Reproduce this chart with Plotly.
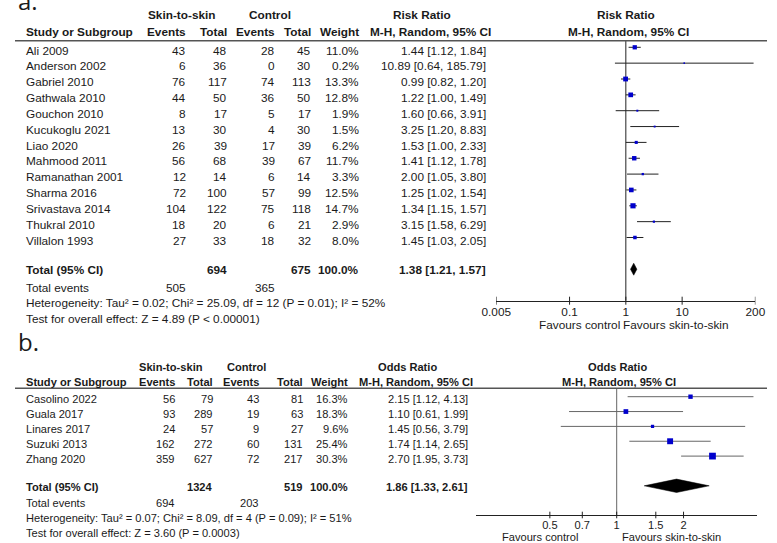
import math
import plotly.graph_objects as go

W, H = 777, 543
FONT = "Liberation Sans, Arial, sans-serif"
TXT = "#1a1a1a"

# ---------------- Panel a data (Risk Ratio) ----------------
studies_a = ["Ali 2009", "Anderson 2002", "Gabriel 2010", "Gathwala 2010", "Gouchon 2010",
             "Kucukoglu 2021", "Liao 2020", "Mahmood 2011", "Ramanathan 2001", "Sharma 2016",
             "Srivastava 2014", "Thukral 2010", "Villalon 1993"]
exp_events_a = [43, 6, 76, 44, 8, 13, 26, 56, 12, 72, 104, 18, 27]
exp_total_a = [48, 36, 117, 50, 17, 30, 39, 68, 14, 100, 122, 20, 33]
ctl_events_a = [28, 0, 74, 36, 5, 4, 17, 39, 6, 57, 75, 6, 18]
ctl_total_a = [45, 30, 113, 50, 17, 30, 39, 67, 14, 99, 118, 21, 32]
weight_a = [11.0, 0.2, 13.3, 12.8, 1.9, 1.5, 6.2, 11.7, 3.3, 12.5, 14.7, 2.9, 8.0]
rr_a = [1.44, 10.89, 0.99, 1.22, 1.60, 3.25, 1.53, 1.41, 2.00, 1.25, 1.34, 3.15, 1.45]
rr_lo_a = [1.12, 0.64, 0.82, 1.00, 0.66, 1.20, 1.00, 1.12, 1.05, 1.02, 1.15, 1.58, 1.03]
rr_hi_a = [1.84, 185.79, 1.20, 1.49, 3.91, 8.83, 2.33, 1.78, 3.80, 1.54, 1.57, 6.29, 2.05]
total_exp_a, total_ctl_a, total_weight_a = 694, 675, "100.0%"
events_exp_a, events_ctl_a = 505, 365
pooled_a = [1.38, 1.21, 1.57]
het_a = "Heterogeneity: Tau² = 0.02; Chi² = 25.09, df = 12 (P = 0.01); I² = 52%"
test_a = "Test for overall effect: Z = 4.89 (P < 0.00001)"
ticks_a = [0.005, 0.1, 1, 10, 200]
ticklabels_a = ["0.005", "0.1", "1", "10", "200"]

# ---------------- Panel b data (Odds Ratio) ----------------
studies_b = ["Casolino 2022", "Guala 2017", "Linares 2017", "Suzuki 2013", "Zhang 2020"]
exp_events_b = [56, 93, 24, 162, 359]
exp_total_b = [79, 289, 57, 272, 627]
ctl_events_b = [43, 19, 9, 60, 72]
ctl_total_b = [81, 63, 27, 131, 217]
weight_b = [16.3, 18.3, 9.6, 25.4, 30.3]
or_b = [2.15, 1.10, 1.45, 1.74, 2.70]
or_lo_b = [1.12, 0.61, 0.56, 1.14, 1.95]
or_hi_b = [4.13, 1.99, 3.79, 2.65, 3.73]
total_exp_b, total_ctl_b, total_weight_b = 1324, 519, "100.0%"
events_exp_b, events_ctl_b = 694, 203
pooled_b = [1.86, 1.33, 2.61]
het_b = "Heterogeneity: Tau² = 0.07; Chi² = 8.09, df = 4 (P = 0.09); I² = 51%"
test_b = "Test for overall effect: Z = 3.60 (P = 0.0003)"
ticks_b = [0.5, 0.7, 1, 1.5, 2]
ticklabels_b = ["0.5", "0.7", "1", "1.5", "2"]

# ---------------- geometry (pixels) ----------------
A = dict(fs=11.8, top=40.7, axis=300.7, row0=47.3, step=15.85, txt_off=3.2, tick_half=4.0,
         x0=497.3, x1=765.0, xr=[math.log10(0.005), math.log10(200)],
         cols=[176.7, 219.3, 268.3, 306.0, 355.0, 486.7], study_x=11.7,
         hdr1=15.5, hdr2=32.3, grp1=172.5, grp2=263.0, lh1=450.0, lh2=491.7,
         rh1=630.8, rh2=633.8,
         total_y=270.0, ev_y=288.3, het_y=303.3, test_y=319.3, fav_y=325.0,
         fav_l=625.0, fav_r=628.3, label="a.", label_y=0.8, pooled_row=14, dia_h=6.0)
B = dict(fs=11.1, top=388.3, axis=515.0, row0=396.7, step=14.85, txt_off=2.6, tick_half=3.3,
         x0=476.7, x1=766.7, xr=[-0.632, 0.632],
         cols=[165.7, 205.0, 252.0, 297.7, 344.3, 468.3], study_x=11.7,
         hdr1=366.7, hdr2=382.3, grp1=161.7, grp2=238.8, lh1=436.0, lh2=473.3,
         rh1=623.0, rh2=624.2,
         total_y=486.7, ev_y=503.3, het_y=518.3, test_y=533.3, fav_y=537.3,
         fav_l=581.3, fav_r=627.3, label="b.", label_y=341.7, pooled_row=6, dia_h=6.7)

annotations = []
shapes = []


def txt(x, y, s, fs, anchor="right", bold=False, family=FONT):
    annotations.append(dict(xref="paper", yref="paper", x=x / W, y=1 - y / H,
                            text=f"<b>{s}</b>" if bold else s, xanchor=anchor, yanchor="middle",
                            showarrow=False, borderpad=0, borderwidth=0,
                            font=dict(family=family, size=fs, color=TXT)))


fig = go.Figure()


def panel(G, xa, ya, studies, ee, et, ce, ct, w, est, lo, hi, tot_e, tot_c, tot_w, ev_e, ev_c,
          pooled, het, test, ticks, title, size_fn, ci_color, vline_color):
    fs = G["fs"]
    n = len(studies)
    yr = [(G["axis"] - G["row0"]) / G["step"], (G["top"] - G["row0"]) / G["step"]]
    rows = list(range(n))
    # table
    txt(3, G["label_y"], G["label"], 24, anchor="left", family="Open Sans, sans-serif")
    txt(G["grp1"], G["hdr1"], "Skin-to-skin", fs, anchor="center", bold=True)
    txt(G["grp2"], G["hdr1"], "Control", fs, anchor="center", bold=True)
    txt(G["lh1"], G["hdr1"], title, fs, bold=True)
    txt(G["rh1"], G["hdr1"], title, fs, anchor="center", bold=True)
    txt(G["study_x"], G["hdr2"], "Study or Subgroup", fs, anchor="left", bold=True)
    for cx, h in zip(G["cols"][:5], ["Events", "Total", "Events", "Total", "Weight"]):
        txt(cx, G["hdr2"], h, fs, bold=True)
    txt(G["lh2"], G["hdr2"], "M-H, Random, 95% CI", fs, bold=True)
    txt(G["rh2"], G["hdr2"], "M-H, Random, 95% CI", fs, anchor="center", bold=True)
    shapes.append(dict(type="line", xref="paper", yref="paper", x0=0, x1=1,
                       y0=1 - G["top"] / H, y1=1 - G["top"] / H, line=dict(color="#555", width=1.5)))
    for i in rows:
        y = G["row0"] + G["step"] * i + G["txt_off"]
        txt(G["study_x"], y, studies[i], fs, anchor="left")
        vals = [str(ee[i]), str(et[i]), str(ce[i]), str(ct[i]), f"{w[i]:.1f}%",
                f"{est[i]:.2f} [{lo[i]:.2f}, {hi[i]:.2f}]"]
        for cx, v in zip(G["cols"], vals):
            txt(cx, y, v, fs)
    txt(G["study_x"], G["total_y"], "Total (95% CI)", fs, anchor="left", bold=True)
    txt(G["cols"][1], G["total_y"], str(tot_e), fs, bold=True)
    txt(G["cols"][3], G["total_y"], str(tot_c), fs, bold=True)
    txt(G["cols"][4], G["total_y"], tot_w, fs, bold=True)
    txt(G["cols"][5], G["total_y"], f"{pooled[0]:.2f} [{pooled[1]:.2f}, {pooled[2]:.2f}]", fs, bold=True)
    txt(G["study_x"], G["ev_y"], "Total events", fs, anchor="left")
    txt(G["cols"][0], G["ev_y"], str(ev_e), fs)
    txt(G["cols"][2], G["ev_y"], str(ev_c), fs)
    txt(G["study_x"], G["het_y"], het, fs, anchor="left")
    txt(G["study_x"], G["test_y"], test, fs, anchor="left")
    txt(G["fav_l"], G["fav_y"], "Favours control", fs, anchor="right")
    txt(G["fav_r"], G["fav_y"], "Favours skin-to-skin", fs, anchor="left")

    xs, ys = [], []
    for i in rows:
        xs += [lo[i], hi[i], None]
        ys += [i, i, None]
    fig.add_trace(go.Scatter(x=xs, y=ys, mode="lines", line=dict(color=ci_color, width=1),
                             xaxis=xa, yaxis=ya, hoverinfo="skip"))
    fig.add_trace(go.Scatter(x=[1, 1], y=yr, mode="lines", line=dict(color=vline_color, width=1),
                             xaxis=xa, yaxis=ya, hoverinfo="skip"))
    fig.add_trace(go.Scatter(x=est, y=rows, mode="markers",
                             marker=dict(symbol="square", color="#0000cc", opacity=1,
                                         size=[size_fn(v) for v in w], line=dict(width=0)),
                             xaxis=xa, yaxis=ya, cliponaxis=False))
    pr = G["pooled_row"]
    dh = G["dia_h"] / G["step"]
    fig.add_trace(go.Scatter(x=[pooled[1], pooled[0], pooled[2], pooled[0], pooled[1]],
                             y=[pr, pr - dh, pr, pr + dh, pr], mode="lines", fill="toself",
                             fillcolor="black", line=dict(color="black", width=0.5),
                             xaxis=xa, yaxis=ya, hoverinfo="skip"))
    # tick marks crossing the axis line
    for t in ticks:
        shapes.append(dict(type="line", xref=xa, yref="paper", x0=t, x1=t,
                           y0=1 - (G["axis"] - G["tick_half"]) / H,
                           y1=1 - (G["axis"] + G["tick_half"]) / H,
                           line=dict(color="#222", width=1)))
    return yr


yr_a = panel(A, "x", "y", studies_a, exp_events_a, exp_total_a, ctl_events_a, ctl_total_a,
             weight_a, rr_a, rr_lo_a, rr_hi_a, total_exp_a, total_ctl_a, total_weight_a,
             events_exp_a, events_ctl_a, pooled_a, het_a, test_a, ticks_a, "Risk Ratio",
             lambda v: 1.5 + 0.25 * v, "#222", "#222")
yr_b = panel(B, "x2", "y2", studies_b, exp_events_b, exp_total_b, ctl_events_b, ctl_total_b,
             weight_b, or_b, or_lo_b, or_hi_b, total_exp_b, total_ctl_b, total_weight_b,
             events_exp_b, events_ctl_b, pooled_b, het_b, test_b, ticks_b, "Odds Ratio",
             lambda v: 1.6 + 0.17 * v, "#666", "#666")


def xax(G, ticks, labels, anchor):
    return dict(domain=[G["x0"] / W, G["x1"] / W], type="log", range=G["xr"], anchor=anchor,
                showline=True, linecolor="#222", linewidth=1, ticks="",
                tickvals=ticks, ticktext=labels,
                showgrid=False, zeroline=False, fixedrange=True,
                tickfont=dict(family=FONT, size=G["fs"], color=TXT))


def yax(G, yr):
    return dict(domain=[1 - G["axis"] / H, 1 - G["top"] / H], range=yr, visible=False,
                showgrid=False, zeroline=False, fixedrange=True)


fig.update_layout(
    width=W, height=H, margin=dict(l=0, r=0, t=0, b=0),
    paper_bgcolor="white", plot_bgcolor="rgba(0,0,0,0)", showlegend=False,
    xaxis=xax(A, ticks_a, ticklabels_a, "y"), yaxis=yax(A, yr_a),
    xaxis2=xax(B, ticks_b, ticklabels_b, "y2"), yaxis2=yax(B, yr_b),
    annotations=annotations, shapes=shapes,
)

fig.write_html("out.html", config={"displayModeBar": False},
               post_script="document.body.style.margin='0';")
